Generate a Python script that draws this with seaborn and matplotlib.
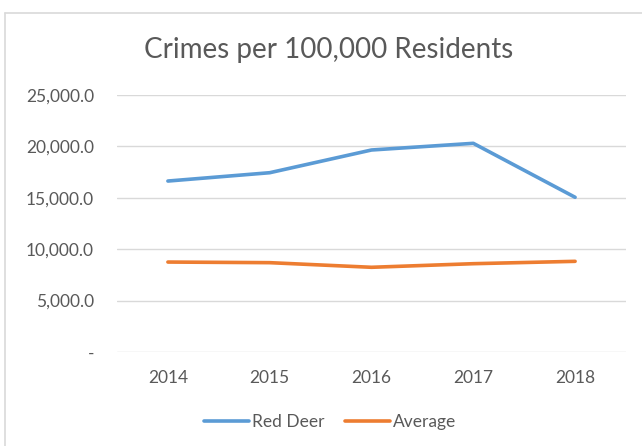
import matplotlib
matplotlib.use("Agg")
import matplotlib.pyplot as plt
import seaborn as sns
import pandas as pd
from matplotlib.lines import Line2D
from matplotlib.ticker import FuncFormatter

years = ["2014", "2015", "2016", "2017", "2018"]
red_deer = [16630, 17440, 19650, 20300, 15050]
average = [8750, 8690, 8240, 8590, 8820]
series_names = ["Red Deer", "Average"]
colors = ["#5B9BD5", "#ED7D31"]

df = pd.DataFrame({
    "Year": years * 2,
    "Value": red_deer + average,
    "Series": [series_names[0]] * len(years) + [series_names[1]] * len(years),
})

sns.set_theme(style="white")
plt.rcParams["font.family"] = ["Lato", "DejaVu Sans"]

fig = plt.figure(figsize=(6.42, 4.46), dpi=100)
ax = fig.add_axes([117 / 642, 1 - 352 / 446, (626 - 117) / 642, (352 - 95) / 446])

sns.lineplot(data=df, x="Year", y="Value", hue="Series", palette=colors,
             linewidth=2.6, ax=ax, legend=False, sort=False)

ax.set_xlim(-0.5, 4.5)
ax.set_ylim(0, 25000)
ax.set_yticks([0, 5000, 10000, 15000, 20000, 25000])

def fmt(v, pos):
    if v == 0:
        return "-"
    return f"{v:,.1f}"

ax.yaxis.set_major_formatter(FuncFormatter(fmt))
ax.grid(axis="y", color="#D9D9D9", linewidth=1)
ax.grid(axis="x", visible=False)
for s in ax.spines.values():
    s.set_visible(False)
ax.tick_params(axis="y", colors="#595959", labelsize=12.5, length=0, pad=16.5)
ax.tick_params(axis="x", colors="#595959", labelsize=12.5, length=0, pad=13)
ax.set_xlabel("")
ax.set_ylabel("")

fig.text(329 / 642, 1 - 50 / 446, "Crimes per 100,000 Residents", ha="center", va="center",
         fontsize=20, color="#595959")

handles = [Line2D([0], [0], color=c, lw=2.6) for c in colors]
fig.legend(handles, series_names, loc="center", bbox_to_anchor=(330 / 642, 1 - 422 / 446),
           ncol=2, frameon=False, fontsize=12.5, labelcolor="#595959",
           handlelength=2.6, handletextpad=0.15, columnspacing=1.2)

# chart border
fig.add_artist(Line2D([5.5 / 642, 5.5 / 642], [0, 1 - 12.5 / 446], color="#D9D9D9", lw=1.2,
                      transform=fig.transFigure))
fig.add_artist(Line2D([5.5 / 642, 1], [1 - 12.5 / 446, 1 - 12.5 / 446], color="#D9D9D9", lw=1.2,
                      transform=fig.transFigure))

fig.savefig("out.png", dpi=100)
